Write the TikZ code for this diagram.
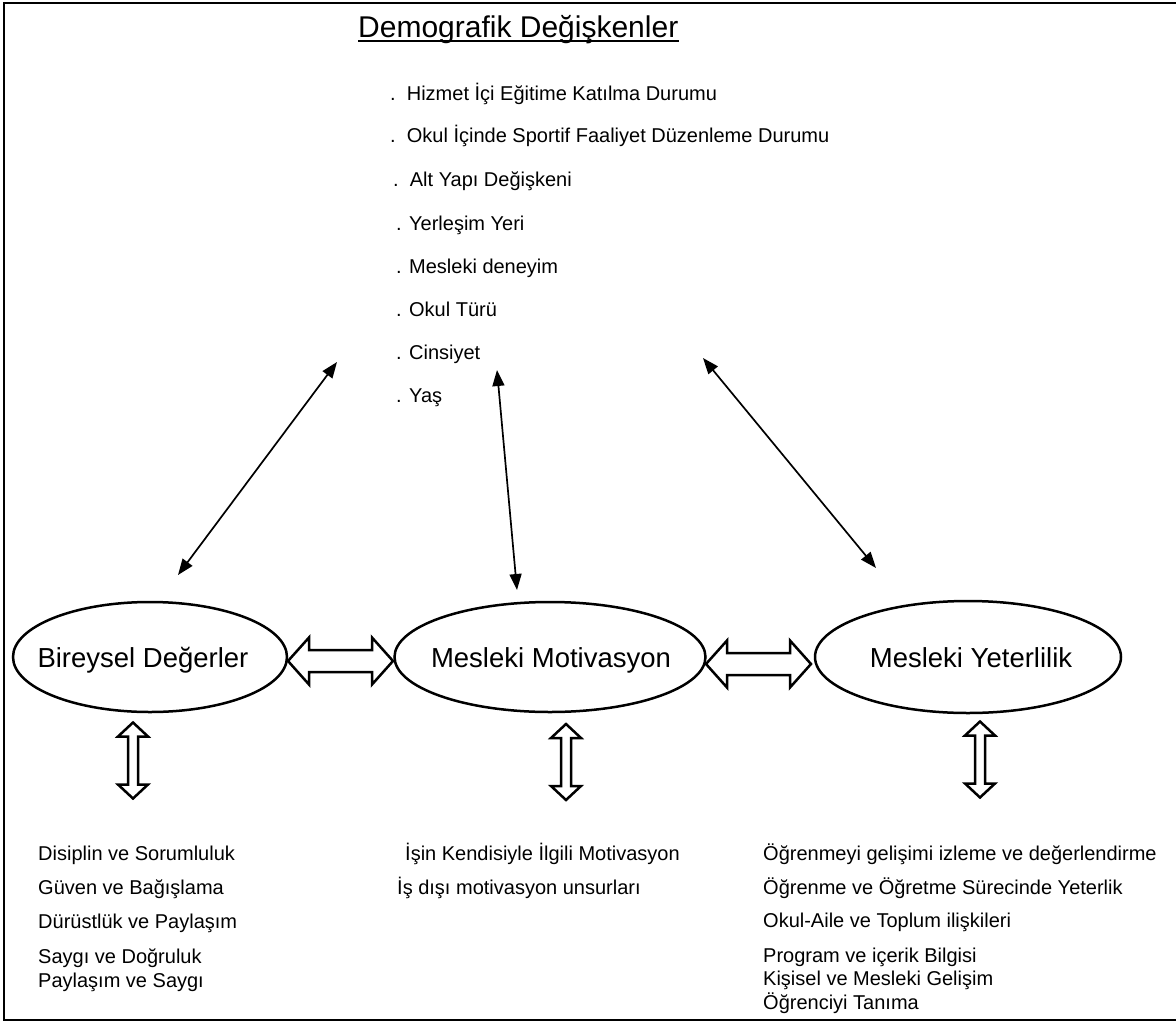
\documentclass[tikz,border=0pt]{standalone}
\usepackage{fontspec}
\setmainfont{Liberation Sans}
\usetikzlibrary{arrows.meta,shapes.geometric}
\begin{document}
\begin{tikzpicture}[x=1pt,y=-1pt,
  body/.style={anchor=base west,inner sep=0pt,font=\fontsize{20}{24}\selectfont},
  oval/.style={ellipse,draw,line width=2.5pt,inner sep=0pt,outer sep=0pt},
  ovaltext/.style={anchor=base,inner sep=0pt,font=\fontsize{27.5}{32}\selectfont},
  thin/.style={line width=1.7pt,{Triangle[length=16pt,width=12pt]}-{Triangle[length=16pt,width=12pt]}},
  blockline/.style={draw,fill=white,line width=2.5pt,line join=miter},
  hblock/.pic={\path[blockline] (-52.5,0) -- (-31.5,-23.5) -- (-31.5,-11) -- (31.5,-11) -- (31.5,-23.5) -- (52.5,0) -- (31.5,23.5) -- (31.5,11) -- (-31.5,11) -- (-31.5,23.5) -- cycle;},
  vblock/.pic={\path[blockline] (0,-38) -- (-15,-24) -- (-5,-24) -- (-5,24) -- (-15,24) -- (0,38) -- (15,24) -- (5,24) -- (5,-24) -- (15,-24) -- cycle;}
]
\useasboundingbox (0,0) rectangle (1176,1023);
\fill[white] (0,0) rectangle (1176,1023);
\draw[line width=2pt] (1176,3) -- (4,3) -- (4,1020) -- (1176,1020);

% title
\node[anchor=base west,inner sep=0pt,font=\fontsize{30}{36}\selectfont] (title) at (358,37) {Demografik Değişkenler};
\draw[line width=1.6pt] ([yshift=-4pt]title.base west) -- ([yshift=-4pt]title.base east);

% demographic list
\node[body] (d1) at (390,100) {.\ \ Hizmet İçi Eğitime Katılma Durumu};
\node[body] (d2) at (390,142) {.\ \ Okul İçinde Sportif Faaliyet Düzenleme Durumu};
\node[body] (d3) at (393,186) {.\ \ Alt Yapı Değişkeni};
\node[body] (d4) at (396,230) {. Yerleşim Yeri};
\node[body] (d5) at (396,273) {. Mesleki deneyim};
\node[body] (d6) at (396,316) {. Okul Türü};
\node[body] (d7) at (396,359) {. Cinsiyet};
\node[body] (d8) at (396,402) {. Yaş};

% ellipses
\node[oval,minimum width=274pt,minimum height=110pt] (bd) at (150,657) {};
\node[oval,minimum width=311pt,minimum height=110pt] (mm) at (550,657) {};
\node[oval,minimum width=306pt,minimum height=112pt] (my) at (968,657) {};
\node[ovaltext] (bdt) at (143,667) {Bireysel Değerler};
\node[ovaltext] (mmt) at (551,667) {Mesleki Motivasyon};
\node[ovaltext] (myt) at (971,667) {Mesleki Yeterlilik};

% thin arrows
\coordinate (la) at (178,575); \coordinate (lb) at (337,362);
\coordinate (ma) at (517,590); \coordinate (mb) at (497,370);
\coordinate (ra) at (876,568); \coordinate (rb) at (703,358);
\draw[thin] (la) -- (lb);
\draw[thin] (ma) -- (mb);
\draw[thin] (ra) -- (rb);

% block arrows
\pic (h1) at (340.5,661) {hblock};
\pic (h2) at (758.5,664) {hblock};
\pic (v1) at (133,760.5) {vblock};
\pic (v2) at (566,762) {vblock};
\pic (v3) at (980,759.5) {vblock};

% bottom lists
\node[body] (b1) at (38,860) {Disiplin ve Sorumluluk};
\node[body] (b2) at (38,894) {Güven ve Bağışlama};
\node[body] (b3) at (38,928) {Dürüstlük ve Paylaşım};
\node[body] (b4) at (38,963) {Saygı ve Doğruluk};
\node[body] (b5) at (38,987) {Paylaşım ve Saygı};

\node[body] (m1) at (405,860) {İşin Kendisiyle İlgili Motivasyon};
\node[body] (m2) at (397,894) {İş dışı motivasyon unsurları};

\node[body] (y1) at (763,860) {Öğrenmeyi gelişimi izleme ve değerlendirme};
\node[body] (y2) at (763,894) {Öğrenme ve Öğretme Sürecinde Yeterlik};
\node[body] (y3) at (763,927) {Okul-Aile ve Toplum ilişkileri};
\node[body] (y4) at (763,962) {Program ve içerik Bilgisi};
\node[body] (y5) at (763,985) {Kişisel ve Mesleki Gelişim};
\node[body] (y6) at (763,1009) {Öğrenciyi Tanıma};
\end{tikzpicture}
\end{document}
